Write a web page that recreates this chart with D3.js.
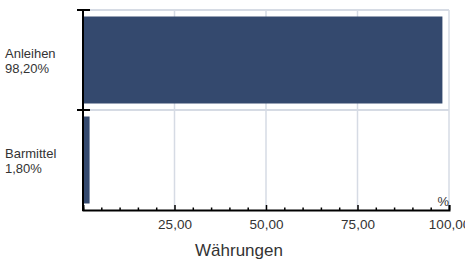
<!DOCTYPE html>
<html lang="de">
<head>
<meta charset="UTF-8">
<title>Währungen</title>
<script src="https://cdn.jsdelivr.net/npm/d3@7"></script>
<style>
  body { margin: 0; background: #fff; }
  text { font-family: "Liberation Sans", Arial, sans-serif; }
</style>
</head>
<body>
<svg id="chart" width="465" height="259"></svg>
<script>
var categories = ["Anleihen", "Barmittel"];
var values = [98.20, 1.80];
var majorTicks = [25, 50, 75, 100];
var minorTicks = d3.range(0, 101, 5);
var axisTitle = "Währungen";
var unitLabel = "%";

var de = d3.formatLocale({decimal: ",", thousands: ".", grouping: [3], currency: ["", " €"]}),
    fmt = de.format(".2f");

var svg = d3.select("#chart"),
    mLeft = 83, mRight = 449, mTop = 10, mBottom = 210,
    gridColor = "#d6dbe4",
    barColor = "#34496e";

var x = d3.scaleLinear().domain([0, 100]).range([mLeft, mRight]);
var y = d3.scaleBand().domain(categories).range([mTop, mBottom]).paddingInner(0.13).paddingOuter(0.065);
var yb = d3.scaleBand().domain(categories).range([mTop, mBottom]);

// grid
svg.append("g").selectAll("line").data(majorTicks).join("line")
    .attr("x1", d => x(d)).attr("x2", d => x(d))
    .attr("y1", mTop).attr("y2", mBottom)
    .attr("stroke", gridColor).attr("stroke-width", 1.5);
svg.append("g").selectAll("line").data(categories).join("line")
    .attr("x1", mLeft).attr("x2", mRight)
    .attr("y1", d => yb(d)).attr("y2", d => yb(d))
    .attr("stroke", gridColor).attr("stroke-width", 2);

// bars
svg.append("g").selectAll("rect").data(values).join("rect")
    .attr("x", x(0))
    .attr("y", (d, i) => y(categories[i]))
    .attr("width", d => x(d) - x(0))
    .attr("height", y.bandwidth())
    .attr("fill", barColor);

// x axis
var xAxis = svg.append("g").attr("transform", "translate(0," + mBottom + ")")
    .call(d3.axisBottom(x).tickValues(majorTicks).tickSize(-5).tickPadding(9).tickFormat(fmt));
xAxis.select(".domain").attr("stroke", "#000").attr("stroke-width", 2);
xAxis.selectAll(".tick line").attr("stroke", "#000").attr("stroke-width", 1.5);
xAxis.selectAll(".tick text").attr("font-size", 13.5).attr("fill", "#333")
    .attr("font-family", "Liberation Sans, Arial, sans-serif");

var minor = svg.append("g").attr("transform", "translate(0," + mBottom + ")")
    .call(d3.axisBottom(x).tickValues(minorTicks.filter(d => majorTicks.indexOf(d) < 0)).tickSize(-2.5).tickFormat(""));
minor.select(".domain").remove();
minor.selectAll(".tick line").attr("stroke", "#000").attr("stroke-width", 1.5);

// y axis
svg.append("line")
    .attr("x1", mLeft).attr("x2", mLeft).attr("y1", mTop).attr("y2", mBottom + 1)
    .attr("stroke", "#000").attr("stroke-width", 2);
svg.append("g").selectAll("line").data(categories).join("line")
    .attr("x1", mLeft - 6).attr("x2", mLeft + 7)
    .attr("y1", d => yb(d)).attr("y2", d => yb(d))
    .attr("stroke", "#000").attr("stroke-width", 2);

// category labels
var lab = svg.append("g").selectAll("text").data(categories).join("text")
    .attr("font-size", 13).attr("fill", "#333");
lab.append("tspan").attr("x", 5).attr("y", d => yb(d) + yb.bandwidth() / 2 - 1.7).text(d => d);
lab.append("tspan").attr("x", 5).attr("y", d => yb(d) + yb.bandwidth() / 2 + 13.3).text((d, i) => fmt(values[i]) + "%");

// unit and title
svg.append("text").attr("x", mRight).attr("y", mBottom - 4)
    .attr("text-anchor", "end").attr("font-size", 13).attr("fill", "#333").text(unitLabel);
svg.append("text").attr("x", 239).attr("y", 256)
    .attr("text-anchor", "middle").attr("font-size", 17).attr("fill", "#333").text(axisTitle);
</script>
</body>
</html>
